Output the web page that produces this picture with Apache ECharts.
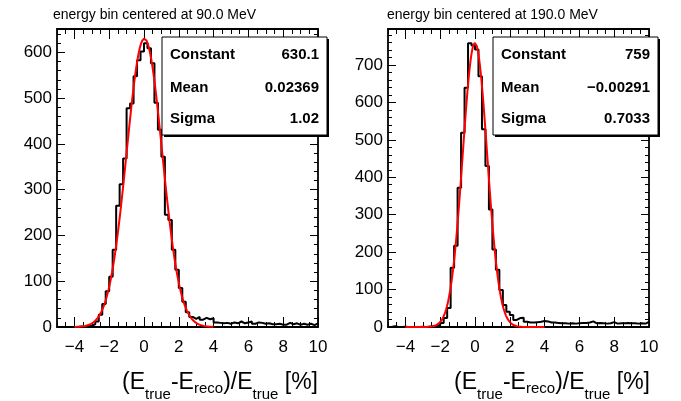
<!DOCTYPE html>
<html>
<head>
<meta charset="utf-8">
<script src="https://cdn.jsdelivr.net/npm/echarts@6/dist/echarts.min.js"></script>
<style>
html, body { margin: 0; padding: 0; background: #fff; }
#chart { width: 681px; height: 401px; }
</style>
</head>
<body>
<div id="chart"></div>
<script>
const FONT = '"Liberation Sans", Arial, Helvetica, sans-serif'

// binning of both histograms
const xMin = -5
const xMax = 10
const binWidth = 0.2
const fitRange = [-4, 4]

// tick marks
const xMajorTicks = [-4, -2, 0, 2, 4, 6, 8, 10]
const leftYTicks = [0, 100, 200, 300, 400, 500, 600]
const rightYTicks = [0, 100, 200, 300, 400, 500, 600, 700]
const leftYMax = 651
const rightYMax = 796

const leftTitle = 'energy bin centered at 90.0 MeV'
const rightTitle = 'energy bin centered at 190.0 MeV'

// bin contents, bins of 0.2 from -5 to 10
const leftCounts = [
    0, 0, 0, 0, 0, 0, 1, 0, 2, 3,
    6, 12, 27, 50, 78, 110, 169, 265, 312, 368,
    478, 488, 548, 583, 602, 620, 609, 576, 490, 431,
    372, 245, 234, 169, 125, 85, 55, 32, 22, 18,
    22, 16, 20, 17, 19, 10, 9, 8, 9, 7,
    10, 8, 12, 8, 10, 12, 7, 10, 9, 7,
    8, 6, 6, 7, 5, 5, 9, 6, 8, 5,
    7, 5, 7, 4, 8
]
const rightCounts = [
    0, 2, 0, 0, 1, 0, 0, 0, 0, 1,
    0, 1, 2, 3, 5, 11, 24, 51, 158, 217,
    372, 519, 639, 758, 752, 741, 670, 528, 430, 314,
    207, 153, 99, 59, 41, 32, 19, 24, 25, 14,
    12, 12, 13, 14, 16, 15, 12, 12, 11, 10,
    10, 9, 10, 9, 10, 11, 11, 12, 15, 10,
    11, 10, 9, 10, 13, 9, 10, 10, 11, 10,
    10, 9, 10, 9, 14
]

// gaussian fit parameters: constant, mean, sigma
const leftFitParams = [630.1, 0.02369, 1.02]
const rightFitParams = [759, -0.00291, 0.7033]

const statNames = ['Constant', 'Mean', 'Sigma']
const leftStatValues = ['630.1', '0.02369', '1.02']
const rightStatValues = ['759', '\u22120.00291', '0.7033']

function range(from, to, step) {
    const out = []
    for (let v = from; v <= to + 1e-9; v += step) out.push(Math.round(v * 1000) / 1000)
    return out
}
const xMinorTicks = range(xMin, xMax, 0.5)
const leftYMinor = range(0, leftYMax, 20)
const rightYMinor = range(0, rightYMax, 20)

function histPoints(counts) {
    const pts = counts.map((c, i) => [xMin + i * binWidth, c])
    pts.push([xMax, counts[counts.length - 1]])
    return pts
}

function fitPoints(p) {
    const pts = []
    for (let i = 0; i <= 400; i++) {
        const x = fitRange[0] + (fitRange[1] - fitRange[0]) * i / 400
        pts.push([x, p[0] * Math.exp(-0.5 * Math.pow((x - p[1]) / p[2], 2))])
    }
    return pts
}

const minus = v => (v < 0 ? '\u2212' + (-v) : String(v))
const black = { color: '#000', width: 1 }

function xAxes(grid) {
    const base = { type: 'value', gridIndex: grid, min: xMin, max: xMax, splitLine: { show: false } }
    const out = []
    ;['bottom', 'top'].forEach((pos, n) => {
        out.push(Object.assign({}, base, {
            position: pos,
            axisLine: { show: true, onZero: false, lineStyle: { color: '#000', width: 1.8 } },
            axisTick: { show: true, inside: true, length: 10, customValues: xMajorTicks, lineStyle: black },
            axisLabel: {
                show: n === 0, customValues: xMajorTicks, margin: 12, color: '#000',
                fontSize: 17, fontFamily: FONT, formatter: minus
            }
        }))
        out.push(Object.assign({}, base, {
            position: pos,
            axisLine: { show: false, onZero: false },
            axisTick: { show: true, inside: true, length: 5, customValues: xMinorTicks, lineStyle: black },
            axisLabel: { show: false }
        }))
    })
    return out
}

function yAxes(grid, max, majors, minors) {
    const base = { type: 'value', gridIndex: grid, min: 0, max: max, splitLine: { show: false } }
    const out = []
    ;['left', 'right'].forEach((pos, n) => {
        out.push(Object.assign({}, base, {
            position: pos,
            axisLine: { show: true, onZero: false, lineStyle: { color: '#000', width: 1.8 } },
            axisTick: { show: true, inside: true, length: 8, customValues: majors, lineStyle: black },
            axisLabel: {
                show: n === 0, customValues: majors, margin: 5, color: '#000',
                fontSize: 17, fontFamily: FONT
            }
        }))
        out.push(Object.assign({}, base, {
            position: pos,
            axisLine: { show: false, onZero: false },
            axisTick: { show: true, inside: true, length: 4, customValues: minors, lineStyle: black },
            axisLabel: { show: false }
        }))
    })
    return out
}

// stat box sits on its own layer so it covers the frame and the histogram
function statBox(x, values) {
    const top = 37
    const children = [
        { type: 'rect', shape: { x: x + 2, y: top + 2, width: 165, height: 98 }, style: { fill: '#000' } },
        { type: 'rect', shape: { x: x, y: top, width: 165, height: 98 }, style: { fill: '#fff', stroke: '#000', lineWidth: 1 } }
    ]
    const rows = [18, 51, 82]
    statNames.forEach((name, i) => {
        children.push({ type: 'text', style: {
            text: name, x: x + 8, y: top + rows[i], fill: '#000', align: 'left', verticalAlign: 'middle',
            fontSize: 15, fontWeight: 'bold', fontFamily: FONT } })
        children.push({ type: 'text', style: {
            text: values[i], x: x + 157, y: top + rows[i], fill: '#000', align: 'right', verticalAlign: 'middle',
            fontSize: 15, fontWeight: 'bold', fontFamily: FONT } })
    })
    children.forEach((c, i) => { c.zlevel = 5; c.z = 100; c.z2 = i })
    return children
}

function axisTitle(xRight) {
    return { type: 'text', z: 100, style: {
        text: '{m|(E}{t|true}{m|-E}{r|reco}{m|)/E}{t|true}{m| [%]}',
        x: xRight, y: 383, align: 'right', verticalAlign: 'middle', fill: '#000',
        rich: {
            m: { fontSize: 23, fontFamily: FONT, color: '#000' },
            t: { fontSize: 15, fontFamily: FONT, color: '#000', padding: [24, 0, 0, 0] },
            r: { fontSize: 15, fontFamily: FONT, color: '#000', padding: [11, 0, 0, 0] }
        }
    } }
}

function titleText(x, text) {
    return { type: 'text', style: {
        text: text, x: x, y: 15, align: 'left', verticalAlign: 'middle',
        fill: '#000', fontSize: 14, fontFamily: FONT } }
}

const chart = echarts.init(document.getElementById('chart'))
chart.setOption({
    animation: false,
    backgroundColor: '#fff',
    grid: [
        { left: 57, top: 29, width: 261, height: 298, containLabel: false, outerBoundsMode: 'none' },
        { left: 388, top: 29, width: 261, height: 298, containLabel: false, outerBoundsMode: 'none' }
    ],
    xAxis: xAxes(0).concat(xAxes(1)),
    yAxis: yAxes(0, leftYMax, leftYTicks, leftYMinor).concat(yAxes(1, rightYMax, rightYTicks, rightYMinor)),
    series: [
        { type: 'line', xAxisIndex: 0, yAxisIndex: 0, step: 'end', symbol: 'none', data: histPoints(leftCounts),
          lineStyle: { color: '#000', width: 2 }, z: 2 },
        { type: 'line', xAxisIndex: 0, yAxisIndex: 0, symbol: 'none', data: fitPoints(leftFitParams),
          lineStyle: { color: '#ff0000', width: 2 }, z: 3 },
        { type: 'line', xAxisIndex: 4, yAxisIndex: 4, step: 'end', symbol: 'none', data: histPoints(rightCounts),
          lineStyle: { color: '#000', width: 2 }, z: 2 },
        { type: 'line', xAxisIndex: 4, yAxisIndex: 4, symbol: 'none', data: fitPoints(rightFitParams),
          lineStyle: { color: '#ff0000', width: 2 }, z: 3 }
    ],
    graphic: [
        titleText(53, leftTitle),
        titleText(387, rightTitle),
        axisTitle(318),
        axisTitle(650)
    ].concat(statBox(162, leftStatValues), statBox(493, rightStatValues))
})
</script>
</body>
</html>
